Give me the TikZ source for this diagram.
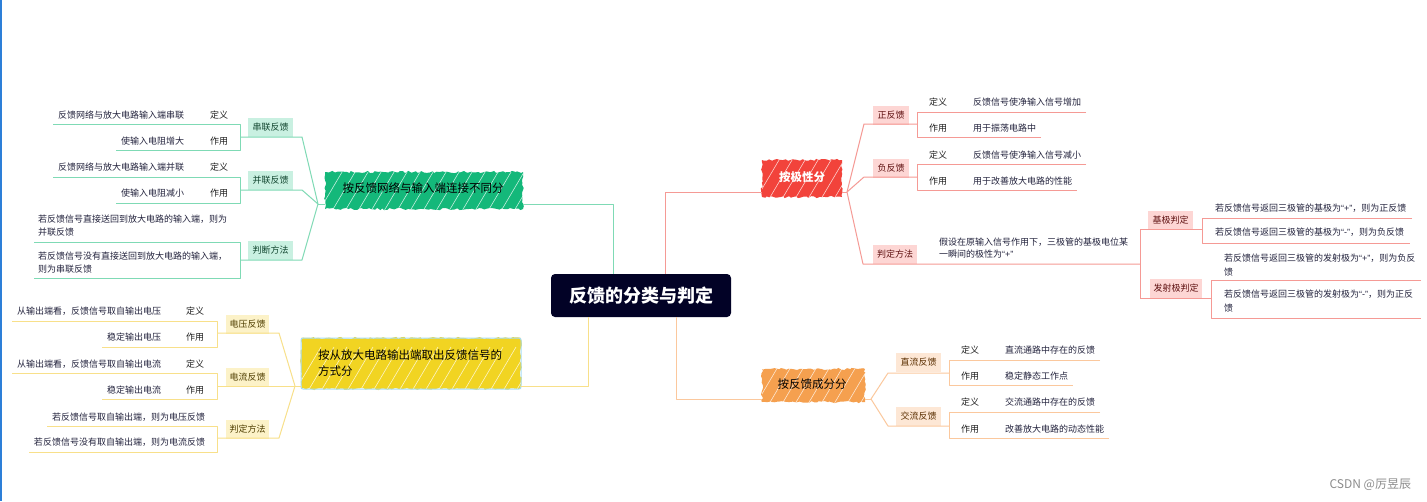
\documentclass[tikz,border=0pt]{standalone}
\usepackage{fontspec}
\setmainfont{Noto Sans CJK SC}
\newfontfamily\qf{Liberation Sans}
\newcommand\qq[1]{{\qf “#1”}}
\usetikzlibrary{decorations.pathmorphing}
\definecolor{navC}{HTML}{020226}
\definecolor{gC}{HTML}{7FDAB5}
\definecolor{gF}{HTML}{C9F0E1}
\definecolor{gT}{HTML}{11452F}
\definecolor{gS}{HTML}{14B87A}
\definecolor{rC}{HTML}{F59A95}
\definecolor{rF}{HTML}{FDD6D4}
\definecolor{rT}{HTML}{5E1010}
\definecolor{rS}{HTML}{F2433B}
\definecolor{yC}{HTML}{F8E08A}
\definecolor{yF}{HTML}{FCF2C8}
\definecolor{yT}{HTML}{4E3D00}
\definecolor{yS}{HTML}{F1D422}
\definecolor{oC}{HTML}{FBC89D}
\definecolor{oF}{HTML}{FDE7D5}
\definecolor{oT}{HTML}{5A2E00}
\definecolor{oS}{HTML}{F5A04F}
\definecolor{txC}{HTML}{24243E}
\definecolor{lbC}{HTML}{1E1E1E}
\definecolor{selC}{HTML}{A5DCF6}
\definecolor{edgeC}{HTML}{2D7FD8}
\newcommand\scrib[5]{%
  \fill[#5, decorate, decoration={random steps,segment length=2.6pt,amplitude=1.1pt}] (#1,#2) rectangle (#3,#4);
  \begin{scope}
    \clip (#1,#2) rectangle (#3,#4);
    \foreach \k in {0,...,18}{\draw[white, line width=0.6pt, opacity=0.75] ({#1+\k*13-6},{#4+2}) -- ++(26,-44);}
  \end{scope}}
\tikzset{
  every node/.style={inner sep=0pt, outer sep=0pt},
  ln/.style={line width=1pt, line join=round},
  gl/.style={ln, draw=gC}, rl/.style={ln, draw=rC}, yl/.style={ln, draw=yC}, ol/.style={ln, draw=oC},
  txt/.style={font=\fontsize{9}{13}\selectfont, text=txC},
  lb/.style={font=\fontsize{9}{13}\selectfont, text=lbC},
  boxbase/.style={font=\fontsize{9}{13}\selectfont, minimum height=19pt},
  gbox/.style={boxbase, fill=gF, text=gT, minimum width=45pt},
  rbox/.style={boxbase, fill=rF, text=rT},
  ybox/.style={boxbase, fill=yF, text=yT, minimum width=43pt},
  obox/.style={boxbase, fill=oF, text=oT, minimum width=45pt},
  ttl/.style={font=\fontsize{11.5}{16}\selectfont, text=black}
}
\begin{document}
\begin{tikzpicture}[x=1pt,y=-1pt]
\useasboundingbox (0,0) rectangle (1427,501);
\fill[white] (0,0) rectangle (1427,501);
\fill[edgeC] (0,0) rectangle (1.6,501);
\pgfmathsetseed{7}

% ---------- root ----------
\node[fill=navC, rounded corners=4pt, minimum width=180pt, minimum height=43pt, text=white,
      font=\fontsize{18}{20}\selectfont\bfseries] (root) at (641,295.5) {反馈的分类与判定};
\coordinate (rootG) at (613,274);
\coordinate (rootR) at (665,274);
\coordinate (rootY) at (588,317);
\coordinate (rootO) at (676,317);

% ---------- green branch ----------
\scrib{325}{172}{523}{209}{gS}
\node[ttl] (gTt) at (423,188) {按反馈网络与输入端连接不同分};
\coordinate (gTr) at (523,204);
\coordinate (gTl) at (325,204);
\coordinate (gj) at (318,204);
\draw[gl] (rootG) |- (gTr);
\draw[gl] (gTl) -- (gj);

\node[gbox] (gA) at (270.5,127.5) {串联反馈};
\node[gbox] (gB) at (270.5,180.5) {并联反馈};
\node[gbox] (gC) at (270.5,250) {判断方法};
\coordinate (gAb) at (240,137); \coordinate (gAt) at (240,124); \coordinate (gAu) at (240,150);
\coordinate (gBb) at (240,190); \coordinate (gBt) at (240,177); \coordinate (gBu) at (240,203);
\coordinate (gCb) at (240,260); \coordinate (gCt) at (240,242); \coordinate (gCu) at (240,278);
\draw[gl] (gj) -- (302,137) -- (gAb);
\draw[gl] (gj) -- (302,190) -- (gBb);
\draw[gl] (gj) -- (302,260) -- (gCb);
\draw[gl] (53,124) -- (gAt) -- (gAu) -- (116,150);
\draw[gl] (53,177) -- (gBt) -- (gBu) -- (116,203);
\draw[gl] (34,242) -- (gCt) -- (gCu) -- (34,278);

\node[lb, anchor=east] (gA1) at (228,115) {定义};
\node[txt, anchor=east] (gA1t) at (184,115) {反馈网络与放大电路输入端串联};
\node[lb, anchor=east] (gA2) at (228,141) {作用};
\node[txt, anchor=east] (gA2t) at (184,141) {使输入电阻增大};
\node[lb, anchor=east] (gB1) at (228,167) {定义};
\node[txt, anchor=east] (gB1t) at (184,167) {反馈网络与放大电路输入端并联};
\node[lb, anchor=east] (gB2) at (228,193) {作用};
\node[txt, anchor=east] (gB2t) at (184,193) {使输入电阻减小};
\node[txt, anchor=west, align=left] (gC1) at (38,225.5) {若反馈信号直接送回到放大电路的输入端，则为\\并联反馈};
\node[txt, anchor=west, align=left] (gC2) at (38,262.5) {若反馈信号没有直接送回到放大电路的输入端，\\则为串联反馈};

% ---------- yellow branch ----------
\scrib{301}{338}{521}{389}{yS}
\draw[selC, line width=1pt, rounded corners=2pt] (301,338) rectangle (521,389);
\node[ttl, anchor=west, align=left, font=\fontsize{11.5}{16}\selectfont] (yTt) at (318,363) {按从放大电路输出端取出反馈信号的\\方式分};
\coordinate (yTr) at (521,386);
\coordinate (yTl) at (301,386);
\coordinate (yj) at (295,386);
\draw[yl] (rootY) |- (yTr);
\draw[yl] (yTl) -- (yj);

\node[ybox] (yA) at (247.5,324) {电压反馈};
\node[ybox] (yB) at (247.5,377) {电流反馈};
\node[ybox] (yC) at (247.5,429) {判定方法};
\coordinate (yAb) at (217,333); \coordinate (yAt) at (217,321); \coordinate (yAu) at (217,347);
\coordinate (yBb) at (217,386); \coordinate (yBt) at (217,373); \coordinate (yBu) at (217,399);
\coordinate (yCb) at (217,438); \coordinate (yCt) at (217,426); \coordinate (yCu) at (217,452);
\draw[yl] (yj) -- (279,333) -- (yAb);
\draw[yl] (yj) -- (yBb);
\draw[yl] (yj) -- (279,438) -- (yCb);
\draw[yl] (12,321) -- (yAt) -- (yAu) -- (102,347);
\draw[yl] (12,373) -- (yBt) -- (yBu) -- (102,399);
\draw[yl] (47,426) -- (yCt) -- (yCu) -- (29,452);

\node[lb, anchor=east] (yA1) at (204,311) {定义};
\node[txt, anchor=east] (yA1t) at (161,311) {从输出端看，反馈信号取自输出电压};
\node[lb, anchor=east] (yA2) at (204,337) {作用};
\node[txt, anchor=east] (yA2t) at (161,337) {稳定输出电压};
\node[lb, anchor=east] (yB1) at (204,364) {定义};
\node[txt, anchor=east] (yB1t) at (161,364) {从输出端看，反馈信号取自输出电流};
\node[lb, anchor=east] (yB2) at (204,390) {作用};
\node[txt, anchor=east] (yB2t) at (161,390) {稳定输出电流};
\node[txt, anchor=east] (yC1) at (205,417) {若反馈信号取自输出端，则为电压反馈};
\node[txt, anchor=east] (yC2) at (205,442) {若反馈信号没有取自输出端，则为电流反馈};

% ---------- red branch ----------
\scrib{762}{160}{842}{197}{rS}
\node[ttl, text=white, font=\fontsize{11.5}{16}\selectfont\bfseries] (rTt) at (802,177) {按极性分};
\coordinate (rTl) at (762,192);
\coordinate (rTr) at (842,192);
\coordinate (rj) at (847,192);
\draw[rl] (rootR) |- (rTl);
\draw[rl] (rTr) -- (rj);

\node[rbox, minimum width=36pt] (rA) at (891,115) {正反馈};
\node[rbox, minimum width=36pt] (rB) at (891,168) {负反馈};
\node[rbox, minimum width=44pt] (rC) at (895,254.5) {判定方法};
\coordinate (rAb) at (917,124); \coordinate (rAt) at (917,112); \coordinate (rAu) at (917,137);
\coordinate (rBb) at (917,177); \coordinate (rBt) at (917,164); \coordinate (rBu) at (917,190);
\coordinate (rCb) at (1140,264); \coordinate (rCt) at (1140,229); \coordinate (rCu) at (1140,298);
\draw[rl] (rj) -- (864,124) -- (rAb);
\draw[rl] (rj) -- (864,177) -- (rBb);
\draw[rl] (rj) -- (863,264) -- (rCb);
\draw[rl] (1086,112) -- (rAt) -- (rAu) -- (1041,137);
\draw[rl] (1086,164) -- (rBt) -- (rBu) -- (1077,190);
\draw[rl] (rCt) -- (rCu);

\node[lb, anchor=west] (rA1) at (929,102) {定义};
\node[txt, anchor=west] (rA1t) at (973,102) {反馈信号使净输入信号增加};
\node[lb, anchor=west] (rA2) at (929,128) {作用};
\node[txt, anchor=west] (rA2t) at (973,128) {用于振荡电路中};
\node[lb, anchor=west] (rB1) at (929,155) {定义};
\node[txt, anchor=west] (rB1t) at (973,155) {反馈信号使净输入信号减小};
\node[lb, anchor=west] (rB2) at (929,181) {作用};
\node[txt, anchor=west] (rB2t) at (973,181) {用于改善放大电路的性能};
\node[txt, anchor=west, align=left, font=\fontsize{9}{12}\selectfont] (rCt1) at (939,248) {假设在原输入信号作用下，三极管的基极电位某\\一瞬间的极性为\qq{+}};

\node[rbox, minimum width=45pt] (rD) at (1170.5,220) {基极判定};
\node[rbox, minimum width=52pt] (rE) at (1176,288.5) {发射极判定};
\coordinate (rDb) at (1202,229); \coordinate (rDt) at (1202,218); \coordinate (rDu) at (1202,243);
\coordinate (rEb) at (1211,298); \coordinate (rEt) at (1211,280); \coordinate (rEu) at (1211,318);
\draw[rl] (rCt) -- (rDb);
\draw[rl] (rCu) -- (rEb);
\draw[rl] (1412,218) -- (rDt) -- (rDu) -- (1410,243);
\draw[rl] (1421,280) -- (rEt) -- (rEu) -- (1421,318);
\node[txt, anchor=west] (rD1) at (1215,208) {若反馈信号返回三极管的基极为\qq{+}，则为正反馈};
\node[txt, anchor=west] (rD2) at (1215,232) {若反馈信号返回三极管的基极为\qq{-}，则为负反馈};
\node[txt, anchor=west, align=left, font=\fontsize{9}{14}\selectfont] (rE1) at (1224,265) {若反馈信号返回三极管的发射极为\qq{+}，则为负反\\馈};
\node[txt, anchor=west, align=left, font=\fontsize{9}{14}\selectfont] (rE2) at (1224,301) {若反馈信号返回三极管的发射极为\qq{-}，则为正反\\馈};

% ---------- orange branch ----------
\scrib{762}{369}{865}{402}{oS}
\node[ttl] (oTt) at (812,384) {按反馈成分分};
\coordinate (oTl) at (762,399);
\coordinate (oTr) at (865,399);
\coordinate (oj) at (871,399);
\draw[ol] (rootO) |- (oTl);
\draw[ol] (oTr) -- (oj);

\node[obox] (oA) at (918.5,362.5) {直流反馈};
\node[obox] (oB) at (918.5,416) {交流反馈};
\coordinate (oAb) at (949,373); \coordinate (oAt) at (949,360); \coordinate (oAu) at (949,385);
\coordinate (oBb) at (949,426); \coordinate (oBt) at (949,412); \coordinate (oBu) at (949,438);
\draw[ol] (oj) -- (888,373) -- (oAb);
\draw[ol] (oj) -- (888,426) -- (oBb);
\draw[ol] (1100,360) -- (oAt) -- (oAu) -- (1073,385);
\draw[ol] (1100,412) -- (oBt) -- (oBu) -- (1109,438);

\node[lb, anchor=west] (oA1) at (961,350) {定义};
\node[txt, anchor=west] (oA1t) at (1005,350) {直流通路中存在的反馈};
\node[lb, anchor=west] (oA2) at (961,376) {作用};
\node[txt, anchor=west] (oA2t) at (1005,376) {稳定静态工作点};
\node[lb, anchor=west] (oB1) at (961,402) {定义};
\node[txt, anchor=west] (oB1t) at (1005,402) {交流通路中存在的反馈};
\node[lb, anchor=west] (oB2) at (961,429) {作用};
\node[txt, anchor=west] (oB2t) at (1005,429) {改善放大电路的动态性能};

% ---------- watermark ----------
\node[anchor=east, text=black!45, font=\fontsize{12}{14}\selectfont] (wm) at (1411,485) {CSDN @厉昱辰};
\end{tikzpicture}
\end{document}
